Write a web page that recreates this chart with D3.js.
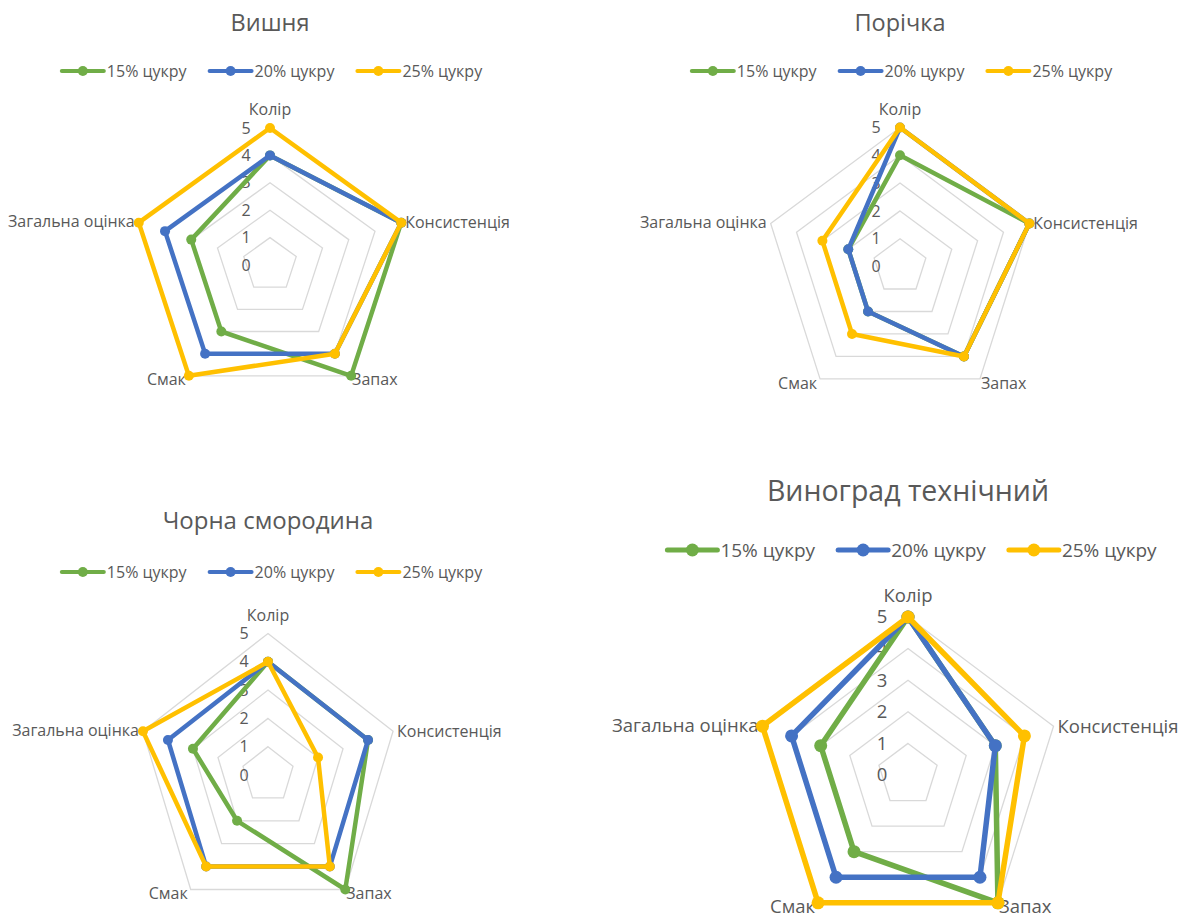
<!DOCTYPE html>
<html>
<head>
<meta charset="utf-8">
<script src="https://cdn.jsdelivr.net/npm/d3@7.9.0/dist/d3.min.js"></script>
<style>
  body { margin: 0; background: #fff; }
  text { font-family: 'Open Sans', 'Noto Sans', sans-serif; fill: #595959; }
</style>
</head>
<body>
<svg id="chart" width="1191" height="918"></svg>
<script>
const axes = ['Колір', 'Консистенція', 'Запах', 'Смак', 'Загальна оцінка'];
const seriesNames = ['15% цукру', '20% цукру', '25% цукру'];
const ticks = [0, 1, 2, 3, 4, 5];
const titles = ['Вишня', 'Порічка', 'Чорна смородина', 'Виноград технічний'];

// scores per axis, same order as axes
const cherry15 = [4, 5, 5, 3, 3];
const cherry20 = [4, 5, 4, 4, 4];
const cherry25 = [5, 5, 4, 5, 5];
const redcurrant15 = [4, 5, 4, 2, 2];
const redcurrant20 = [5, 5, 4, 2, 2];
const redcurrant25 = [5, 5, 4, 3, 3];
const blackcurrant15 = [4, 4, 5, 2, 3];
const blackcurrant20 = [4, 4, 4, 4, 4];
const blackcurrant25 = [4, 2, 4, 4, 5];
const grape15 = [5, 3, 5, 3, 3];
const grape20 = [5, 3, 4, 4, 4];
const grape25 = [5, 4, 5, 5, 5];

const colors = ['#70AD47', '#4472C4', '#FFC000'];

const charts = [
  { title: titles[0], values: [cherry15, cherry20, cherry25],
    cx: 270, cy: 265, rx: 138, ry: 137, titleY: 31, titleSize: 23.5,
    legendX: 272, legendY: 71, font: 16, legendFont: 16, lineLen: 42, stroke: 4.5, marker: 5, tickDx: 24 },
  { title: titles[1], values: [redcurrant15, redcurrant20, redcurrant25],
    cx: 900, cy: 266.5, rx: 136, ry: 139, titleY: 31, titleSize: 23.5,
    legendX: 902, legendY: 71, font: 16, legendFont: 16, lineLen: 42, stroke: 4.5, marker: 5, tickDx: 24 },
  { title: titles[2], values: [blackcurrant15, blackcurrant20, blackcurrant25],
    cx: 268, cy: 775, rx: 131.5, ry: 141.5, titleY: 529, titleSize: 24,
    legendX: 272, legendY: 572, font: 16, legendFont: 16, lineLen: 42, stroke: 4.5, marker: 5, tickDx: 24 },
  { title: titles[3], values: [grape15, grape20, grape25],
    cx: 908, cy: 775, rx: 153, ry: 158, titleY: 501, titleSize: 28.5,
    legendX: 912, legendY: 550, font: 18.5, legendFont: 19, lineLen: 50, stroke: 5.5, marker: 6.5, tickDx: 26 }
];

const svg = d3.select('#chart');
const angle = d3.scaleLinear().domain([0, axes.length]).range([0, 2 * Math.PI]);

charts.forEach((c) => {
  const g = svg.append('g');
  const rScaleX = d3.scaleLinear().domain([0, 5]).range([0, c.rx]);
  const rScaleY = d3.scaleLinear().domain([0, 5]).range([0, c.ry]);
  const px = (v, i) => c.cx + rScaleX(v) * Math.sin(angle(i));
  const py = (v, i) => c.cy - rScaleY(v) * Math.cos(angle(i));
  const ring = d3.line()
    .x((d) => px(d.v, d.i))
    .y((d) => py(d.v, d.i))
    .curve(d3.curveLinearClosed);

  // title
  g.append('text')
    .attr('x', c.cx)
    .attr('y', c.titleY)
    .attr('text-anchor', 'middle')
    .style('font-size', c.titleSize + 'px')
    .text(c.title);

  // grid rings
  g.selectAll('.ring')
    .data(ticks.slice(1))
    .join('path')
    .attr('d', (t) => ring(axes.map((a, i) => ({ v: t, i }))))
    .attr('fill', 'none')
    .attr('stroke', '#D9D9D9')
    .attr('stroke-width', 1.3);

  // tick labels
  g.selectAll('.tick')
    .data(ticks)
    .join('text')
    .attr('x', c.cx - c.tickDx)
    .attr('y', (t) => c.cy - rScaleY(t))
    .attr('dy', '0.35em')
    .attr('text-anchor', 'middle')
    .style('font-size', c.font + 'px')
    .text((t) => t);

  // axis labels
  const place = [
    { dx: 0, dy: -0.8 * c.font, anchor: 'middle', base: '0' },
    { dx: 4, dy: 0, anchor: 'start', base: '0.35em' },
    { dx: 1, dy: 4, anchor: 'start', base: '0.35em' },
    { dx: -3, dy: 4, anchor: 'end', base: '0.35em' },
    { dx: -4, dy: -1, anchor: 'end', base: '0.35em' }
  ];
  g.selectAll('.axis-label')
    .data(axes)
    .join('text')
    .attr('x', (a, i) => px(5, i) + place[i].dx)
    .attr('y', (a, i) => py(5, i) + place[i].dy)
    .attr('dy', (a, i) => place[i].base)
    .attr('text-anchor', (a, i) => place[i].anchor)
    .style('font-size', c.font + 'px')
    .text((a) => a);

  // series
  c.values.forEach((vals, k) => {
    const pts = vals.map((v, i) => ({ v, i }));
    g.append('path')
      .attr('d', ring(pts))
      .attr('fill', 'none')
      .attr('stroke', colors[k])
      .attr('stroke-width', c.stroke)
      .attr('stroke-linejoin', 'round');
    g.selectAll(null)
      .data(pts)
      .join('circle')
      .attr('cx', (d) => px(d.v, d.i))
      .attr('cy', (d) => py(d.v, d.i))
      .attr('r', c.marker)
      .attr('fill', colors[k]);
  });

  // legend
  const legend = g.append('g');
  let x = 0;
  seriesNames.forEach((name, k) => {
    const item = legend.append('g').attr('transform', `translate(${x},0)`);
    item.append('line')
      .attr('x1', 0).attr('x2', c.lineLen)
      .attr('stroke', colors[k])
      .attr('stroke-width', c.stroke - 0.5)
      .attr('stroke-linecap', 'round');
    item.append('circle')
      .attr('cx', c.lineLen / 2)
      .attr('r', c.marker)
      .attr('fill', colors[k]);
    const t = item.append('text')
      .attr('x', c.lineLen + 3)
      .attr('dy', '0.35em')
      .style('font-size', c.legendFont + 'px')
      .text(name);
    x += c.lineLen + 3 + t.node().getComputedTextLength() + 23;
  });
  const total = x - 23;
  legend.attr('transform', `translate(${c.legendX - total / 2},${c.legendY})`);
});
</script>
</body>
</html>
